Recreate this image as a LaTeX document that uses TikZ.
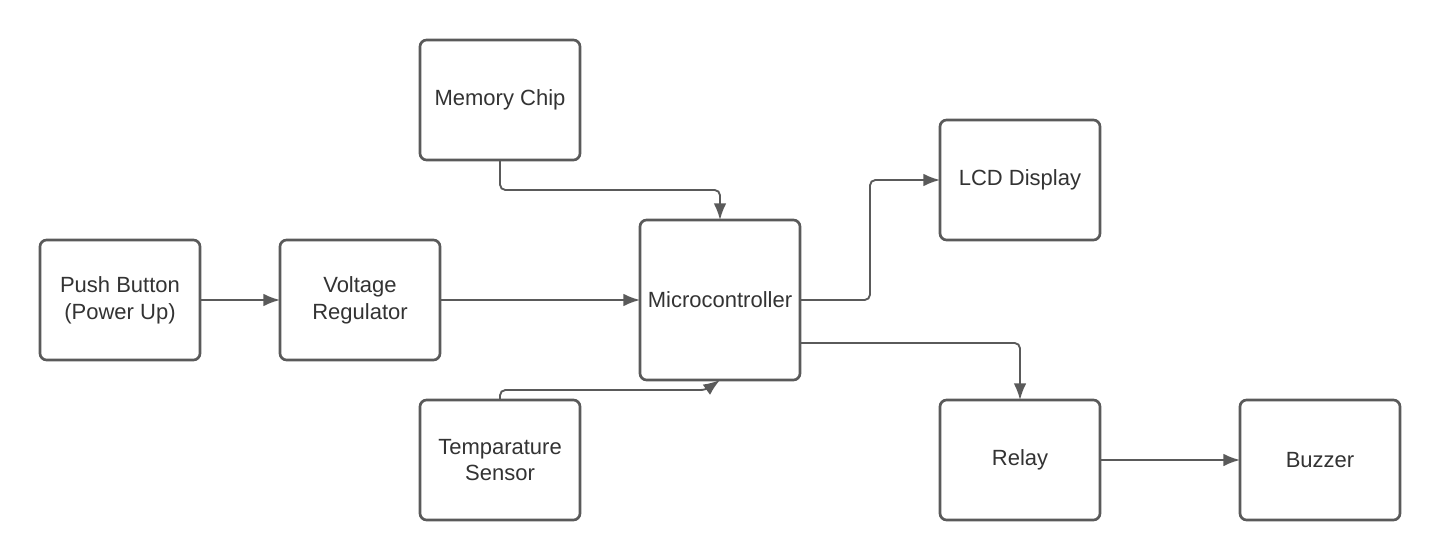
\documentclass[tikz,border=0pt]{standalone}
\usepackage{fontspec}
\setmainfont{Liberation Sans}
\usepackage{xcolor}
\usetikzlibrary{arrows.meta, positioning, calc}
\definecolor{LineGrey}{HTML}{5A5A5A}
\definecolor{TextGrey}{HTML}{333333}

\tikzset{
  block/.style={draw=LineGrey, line width=2pt, rounded corners=5pt, fill=white,
    minimum width=120pt, minimum height=90pt, outer sep=0pt, align=center,
    text=TextGrey, font=\fontsize{16.5}{20}\selectfont},
  wire/.style={->, draw=LineGrey, line width=1.4pt, rounded corners=4pt}
}

\begin{document}
\begin{tikzpicture}[x=0.75pt, y=-0.75pt, >={Latex[length=12.5pt, width=9.5pt]}]
    \useasboundingbox (0,0) rectangle (1440,560);

    % Blocks
    \node [block] (push) at (120,300) {Push Button\\(Power Up)};
    \node [block] (volt) at (360,300) {Voltage\\Regulator};
    \node [block] (mem) at (500,100) {Memory Chip};
    \node [block, minimum height=120pt] (micro) at (720,300) {Microcontroller};
    \node [block] (temp) at (500,460) {Temparature\\Sensor};
    \node [block] (lcd) at (1020,180) {LCD Display};
    \node [block] (relay) at (1020,460) {Relay};
    \node [block] (buzz) at (1320,460) {Buzzer};

    % Connections
    \draw [wire] (push) -- (volt);
    \draw [wire] (volt) -- (micro);
    \draw [wire] (mem.south) -- ++(0,30) -| (micro.north);
    \draw [wire] (temp.north) -- ++(0,-10) -- ($(micro.south)+(-14,10)$) -- (micro.south);
    \draw [wire] (micro.east) -- ++(70,0) |- (lcd.west);
    \draw [wire] ($(micro.east)+(0,43)$) -| (relay.north);
    \draw [wire] (relay) -- (buzz);
\end{tikzpicture}
\end{document}
